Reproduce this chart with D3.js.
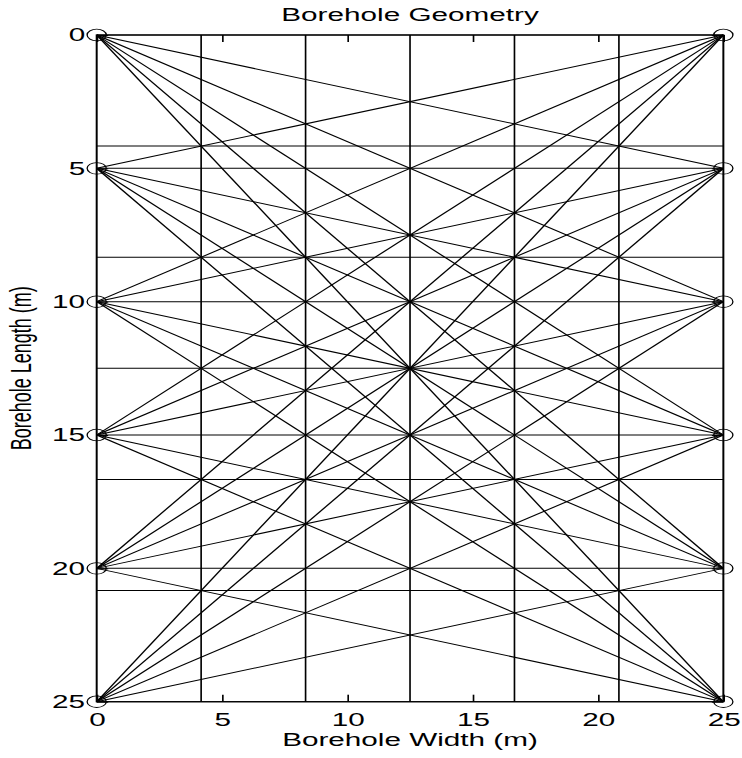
<!DOCTYPE html>
<html>
<head>
<meta charset="utf-8">
<script src="https://cdn.jsdelivr.net/npm/d3@7"></script>
<style>
  body { margin: 0; background: #fff; }
</style>
</head>
<body>
<div id="d3-container"></div>
<script>
// transmitter depths in the left hole, receiver depths in the right hole (m)
const sourceDepths = [0, 5, 10, 15, 20, 25];
const receiverDepths = [0, 5, 10, 15, 20, 25];
const boreholeX = [0, 25];
// cell boundaries of the tomography grid (m)
const gridX = [4.1667, 8.3333, 12.5, 16.6667, 20.8333];
const gridY = [4.1667, 8.3333, 12.5, 16.6667, 20.8333];
const xTicks = [0, 5, 10, 15, 20, 25];
const yTicks = [0, 5, 10, 15, 20, 25];

const width = 742;
const height = 758;
// the original figure was stretched sideways, so everything is drawn in a squeezed
// frame and scaled back out horizontally
const stretch = 1.65;
const innerWidth = width / stretch;
const margin = {top: 35, bottom: 56.3, left: 58.6, right: innerWidth - 438.4};

const svg = d3.select('#d3-container')
    .append('svg')
    .attr('width', width)
    .attr('height', height)
    .style('background', '#fff');

const g = svg.append('g')
    .attr('transform', `scale(${stretch},1)`);

const x = d3.scaleLinear()
    .domain([0, 25])
    .range([margin.left, innerWidth - margin.right]);

const y = d3.scaleLinear()
    .domain([0, 25])
    .range([margin.top, height - margin.bottom]);

const font = "'Liberation Sans', Arial, Helvetica, sans-serif";

// grid
g.append('g')
    .selectAll('line')
    .data(gridX)
    .join('line')
    .attr('x1', d => x(d))
    .attr('x2', d => x(d))
    .attr('y1', y(0))
    .attr('y2', y(25))
    .attr('stroke', '#000')
    .attr('stroke-width', 1);

g.append('g')
    .selectAll('line')
    .data(gridY)
    .join('line')
    .attr('x1', x(0))
    .attr('x2', x(25))
    .attr('y1', d => y(d))
    .attr('y2', d => y(d))
    .attr('stroke', '#000')
    .attr('stroke-width', 1);

// rays, every source to every receiver
const rays = d3.cross(sourceDepths, receiverDepths);
g.append('g')
    .selectAll('line')
    .data(rays)
    .join('line')
    .attr('x1', x(boreholeX[0]))
    .attr('y1', d => y(d[0]))
    .attr('x2', x(boreholeX[1]))
    .attr('y2', d => y(d[1]))
    .attr('stroke', '#000')
    .attr('stroke-width', 1);

// axes, ticks pointing inward
function styleAxis(a) {
    a.selectAll('.domain').remove();
    a.selectAll('.tick line').attr('stroke', '#000');
    a.selectAll('text')
        .attr('fill', '#000')
        .style('font-family', font)
        .style('font-size', '18px');
}

g.append('g')
    .attr('transform', `translate(0,${y(25)})`)
    .call(d3.axisBottom(x).tickValues(xTicks).tickSizeInner(-7).tickSizeOuter(0).tickPadding(11.5))
    .call(styleAxis);

g.append('g')
    .attr('transform', `translate(0,${y(0)})`)
    .call(d3.axisTop(x).tickValues(xTicks).tickSizeInner(-7).tickSizeOuter(0).tickFormat(''))
    .call(styleAxis);

g.append('g')
    .attr('transform', `translate(${x(0)},0)`)
    .call(d3.axisLeft(y).tickValues(yTicks).tickSizeInner(-7).tickSizeOuter(0).tickPadding(7))
    .call(styleAxis);

g.append('g')
    .attr('transform', `translate(${x(25)},0)`)
    .call(d3.axisRight(y).tickValues(yTicks).tickSizeInner(-7).tickSizeOuter(0).tickFormat(''))
    .call(styleAxis);

// box
g.append('rect')
    .attr('x', x(0))
    .attr('y', y(0))
    .attr('width', x(25) - x(0))
    .attr('height', y(25) - y(0))
    .attr('fill', 'none')
    .attr('stroke', '#000')
    .attr('stroke-width', 1.2);

// borehole stations
g.append('g')
    .selectAll('circle')
    .data(sourceDepths)
    .join('circle')
    .attr('cx', x(boreholeX[0]))
    .attr('cy', d => y(d))
    .attr('r', 5.8)
    .attr('fill', 'none')
    .attr('stroke', '#000')
    .attr('stroke-width', 0.8);

g.append('g')
    .selectAll('circle')
    .data(receiverDepths)
    .join('circle')
    .attr('cx', x(boreholeX[1]))
    .attr('cy', d => y(d))
    .attr('r', 5.8)
    .attr('fill', 'none')
    .attr('stroke', '#000')
    .attr('stroke-width', 0.8);

// labels
g.append('text')
    .attr('x', (x(0) + x(25)) / 2)
    .attr('y', 21)
    .attr('text-anchor', 'middle')
    .style('font-family', font)
    .style('font-size', '18px')
    .text('Borehole Geometry');

g.append('text')
    .attr('x', (x(0) + x(25)) / 2)
    .attr('y', 746)
    .attr('text-anchor', 'middle')
    .style('font-family', font)
    .style('font-size', '18px')
    .text('Borehole Width (m)');

g.append('text')
    .attr('transform', `translate(18.5,${(y(0) + y(25)) / 2}) rotate(-90)`)
    .attr('text-anchor', 'middle')
    .style('font-family', font)
    .style('font-size', '18px')
    .text('Borehole Length (m)');
</script>
</body>
</html>
